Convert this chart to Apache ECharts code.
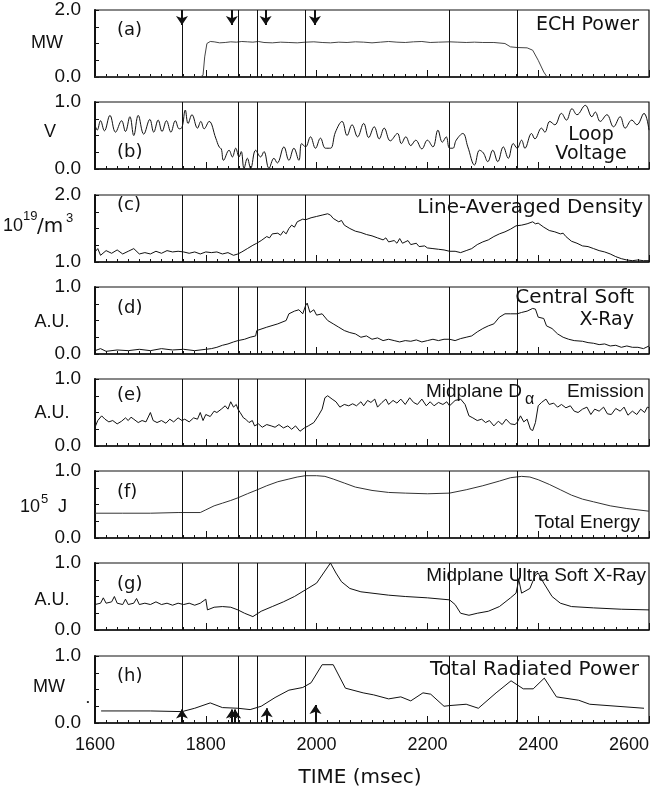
<!DOCTYPE html>
<html>
<head>
<meta charset="utf-8">
<script src="https://cdn.jsdelivr.net/npm/echarts@6.0.0/dist/echarts.min.js"></script>
<style>
html, body { margin: 0; padding: 0; background: #fff; }
#chart { width: 662px; height: 790px; }
</style>
</head>
<body>
<div id="chart"></div>
<script>
// time in msec
var eventTimes = [1757, 1858, 1893, 1980, 2240, 2362];
var arrowsDown = [1757, 1847, 1908, 1997];
var arrowsUp = [1757, 1847, 1853, 1910, 1998];
var arrowUpTips = [0.2, 0.2, 0.2, 0.22, 0.27];

var echPower = [[1600,0],[1790,0],[1795,0.05],[1798,0.6],[1802,1.0],[1808,1.06],[1815,1.05],[1825,1.02],[1835,1.03],[1845,1.05],[1855,1.04],[1865,1.06],[1875,1.05],[1885,1.04],[1895,1.06],[1905,1.03],[1920,1.02],[1935,1.04],[1950,1.03],[1965,1.02],[1980,1.04],[1995,1.05],[2010,1.03],[2025,1.02],[2040,1.04],[2055,1.03],[2070,1.05],[2085,1.04],[2100,1.02],[2115,1.04],[2130,1.06],[2145,1.04],[2160,1.03],[2175,1.05],[2190,1.06],[2205,1.03],[2220,1.04],[2240,1.05],[2255,1.04],[2270,1.03],[2285,1.04],[2300,1.03],[2320,1.03],[2340,1.0],[2350,0.9],[2362,0.88],[2380,0.87],[2390,0.8],[2400,0.5],[2410,0.15],[2416,0],[2600,0]];

var loopVoltage = [[1600,0.66],[1604,0.58],[1610,0.72],[1617,0.57],[1627,0.8],[1637,0.55],[1648,0.72],[1655,0.56],[1663,0.78],[1670,0.5],[1678,0.8],[1688,0.52],[1699,0.74],[1706,0.55],[1714,0.73],[1721,0.56],[1729,0.72],[1737,0.55],[1745,0.72],[1752,0.6],[1757,0.62],[1763,0.88],[1768,0.68],[1775,0.81],[1785,0.61],[1791,0.71],[1797,0.6],[1806,0.71],[1818,0.46],[1824,0.33],[1828,0.3],[1832,0.13],[1842,0.28],[1848,0.18],[1854,0.31],[1860,0.18],[1864,0.26],[1869,0.01],[1875,0.16],[1881,0.01],[1890,0.28],[1899,0.18],[1905,0.26],[1914,0.01],[1923,0.16],[1929,0.09],[1941,0.33],[1950,0.13],[1959,0.31],[1968,0.13],[1973,0.38],[1980,0.33],[1989,0.48],[1998,0.31],[2007,0.46],[2016,0.31],[2025,0.31],[2034,0.55],[2046,0.71],[2055,0.5],[2064,0.66],[2074,0.48],[2085,0.68],[2094,0.47],[2104,0.63],[2113,0.45],[2122,0.61],[2133,0.42],[2146,0.53],[2153,0.38],[2161,0.48],[2170,0.35],[2179,0.43],[2190,0.3],[2200,0.43],[2210,0.33],[2219,0.58],[2227,0.4],[2234,0.48],[2240,0.31],[2246,0.31],[2252,0.43],[2264,0.53],[2273,0.33],[2285,0.06],[2294,0.28],[2301,0.24],[2309,0.11],[2318,0.28],[2327,0.11],[2337,0.33],[2346,0.16],[2355,0.38],[2362,0.31],[2370,0.43],[2376,0.31],[2388,0.53],[2394,0.45],[2406,0.61],[2412,0.55],[2421,0.71],[2430,0.66],[2442,0.83],[2451,0.73],[2461,0.9],[2470,0.81],[2485,0.95],[2497,0.78],[2503,0.85],[2512,0.71],[2524,0.81],[2536,0.63],[2548,0.78],[2557,0.61],[2569,0.73],[2578,0.66],[2591,0.83],[2600,0.58]];

var density = [[1600,1.15],[1605,1.2],[1610,1.1],[1620,1.17],[1630,1.13],[1640,1.18],[1650,1.12],[1660,1.16],[1670,1.2],[1680,1.12],[1690,1.14],[1700,1.12],[1710,1.16],[1720,1.13],[1730,1.17],[1740,1.15],[1750,1.16],[1760,1.15],[1770,1.13],[1780,1.15],[1790,1.12],[1800,1.15],[1810,1.14],[1820,1.15],[1830,1.12],[1840,1.14],[1850,1.1],[1858,1.12],[1865,1.15],[1875,1.2],[1885,1.25],[1892,1.28],[1900,1.32],[1910,1.38],[1915,1.36],[1920,1.42],[1930,1.43],[1935,1.4],[1940,1.46],[1945,1.42],[1950,1.5],[1955,1.55],[1960,1.52],[1965,1.6],[1975,1.64],[1980,1.63],[1990,1.66],[2000,1.68],[2010,1.7],[2020,1.72],[2025,1.7],[2030,1.65],[2040,1.6],[2045,1.62],[2050,1.55],[2060,1.5],[2070,1.46],[2080,1.44],[2090,1.41],[2100,1.39],[2110,1.36],[2120,1.33],[2125,1.36],[2130,1.3],[2140,1.32],[2145,1.28],[2150,1.35],[2155,1.28],[2165,1.32],[2170,1.26],[2180,1.28],[2185,1.23],[2195,1.24],[2200,1.21],[2210,1.2],[2220,1.19],[2230,1.18],[2240,1.16],[2250,1.16],[2260,1.14],[2270,1.17],[2280,1.2],[2290,1.26],[2300,1.3],[2310,1.33],[2320,1.38],[2330,1.42],[2340,1.45],[2350,1.49],[2360,1.54],[2370,1.55],[2380,1.57],[2390,1.6],[2395,1.57],[2400,1.58],[2410,1.52],[2420,1.47],[2430,1.45],[2440,1.42],[2445,1.43],[2450,1.38],[2460,1.31],[2470,1.28],[2480,1.24],[2490,1.23],[2500,1.2],[2510,1.17],[2520,1.15],[2530,1.12],[2540,1.08],[2550,1.05],[2560,1.03],[2570,1.02],[2580,1.03],[2590,1.02],[2600,1.02]];

var softXray = [[1600,0.05],[1610,0.08],[1620,0.04],[1640,0.06],[1660,0.05],[1680,0.07],[1700,0.05],[1720,0.08],[1740,0.06],[1760,0.07],[1780,0.05],[1800,0.07],[1810,0.08],[1820,0.1],[1830,0.13],[1840,0.15],[1850,0.18],[1858,0.2],[1870,0.22],[1880,0.25],[1890,0.27],[1892,0.35],[1910,0.4],[1930,0.45],[1945,0.5],[1950,0.6],[1960,0.64],[1968,0.66],[1975,0.6],[1980,0.72],[1983,0.76],[1988,0.62],[1995,0.66],[2000,0.58],[2010,0.6],[2020,0.5],[2030,0.45],[2040,0.4],[2050,0.35],[2060,0.32],[2070,0.3],[2080,0.25],[2090,0.27],[2100,0.22],[2110,0.24],[2120,0.2],[2130,0.22],[2140,0.2],[2150,0.18],[2160,0.2],[2170,0.19],[2180,0.21],[2190,0.18],[2200,0.2],[2210,0.22],[2220,0.2],[2230,0.22],[2240,0.22],[2250,0.2],[2260,0.23],[2270,0.25],[2280,0.27],[2290,0.33],[2300,0.38],[2310,0.42],[2320,0.45],[2330,0.55],[2340,0.6],[2350,0.6],[2362,0.6],[2370,0.62],[2380,0.64],[2390,0.68],[2395,0.67],[2400,0.55],[2410,0.53],[2415,0.42],[2425,0.38],[2435,0.3],[2445,0.25],[2455,0.22],[2465,0.2],[2480,0.19],[2490,0.17],[2500,0.16],[2510,0.14],[2520,0.15],[2530,0.12],[2540,0.13],[2550,0.1],[2560,0.12],[2570,0.1],[2580,0.1],[2590,0.08],[2600,0.12]];

var dAlpha = [[1600,0.28],[1605,0.38],[1612,0.45],[1618,0.4],[1625,0.36],[1632,0.38],[1640,0.33],[1648,0.37],[1655,0.42],[1660,0.38],[1665,0.43],[1670,0.4],[1678,0.35],[1685,0.38],[1692,0.36],[1700,0.5],[1705,0.38],[1712,0.35],[1720,0.38],[1728,0.34],[1735,0.4],[1742,0.36],[1750,0.42],[1757,0.38],[1762,0.4],[1770,0.36],[1778,0.42],[1785,0.4],[1790,0.5],[1795,0.38],[1800,0.47],[1808,0.44],[1815,0.52],[1820,0.5],[1828,0.55],[1835,0.6],[1840,0.55],[1845,0.66],[1850,0.58],[1855,0.62],[1858,0.55],[1862,0.5],[1868,0.42],[1872,0.4],[1878,0.35],[1884,0.38],[1888,0.3],[1895,0.33],[1902,0.28],[1910,0.32],[1918,0.3],[1925,0.28],[1932,0.32],[1940,0.27],[1948,0.3],[1955,0.25],[1962,0.3],[1970,0.22],[1978,0.27],[1985,0.3],[1995,0.35],[2003,0.45],[2010,0.55],[2015,0.72],[2020,0.75],[2028,0.7],[2035,0.66],[2042,0.58],[2050,0.62],[2058,0.6],[2065,0.63],[2072,0.6],[2080,0.66],[2085,0.6],[2092,0.68],[2098,0.65],[2105,0.7],[2110,0.58],[2118,0.65],[2125,0.7],[2130,0.62],[2138,0.68],[2145,0.64],[2152,0.7],[2160,0.62],[2168,0.72],[2175,0.65],[2182,0.62],[2190,0.7],[2198,0.6],[2205,0.66],[2212,0.6],[2220,0.65],[2228,0.62],[2235,0.66],[2240,0.6],[2250,0.68],[2260,0.7],[2268,0.62],[2275,0.45],[2282,0.42],[2290,0.38],[2298,0.4],[2305,0.35],[2312,0.38],[2320,0.3],[2328,0.37],[2335,0.32],[2342,0.4],[2350,0.33],[2358,0.32],[2362,0.35],[2368,0.45],[2374,0.36],[2380,0.4],[2386,0.25],[2390,0.23],[2395,0.35],[2400,0.6],[2406,0.65],[2414,0.7],[2420,0.62],[2428,0.64],[2435,0.58],[2442,0.62],[2450,0.57],[2458,0.6],[2465,0.52],[2472,0.5],[2480,0.55],[2488,0.58],[2495,0.47],[2502,0.55],[2510,0.52],[2518,0.58],[2525,0.48],[2532,0.47],[2540,0.56],[2548,0.52],[2555,0.58],[2562,0.46],[2570,0.52],[2578,0.47],[2585,0.55],[2592,0.5],[2597,0.58],[2600,0.57]];

var totalEnergy = [[1600,0.37],[1650,0.37],[1700,0.37],[1750,0.38],[1790,0.38],[1800,0.42],[1815,0.48],[1830,0.52],[1845,0.56],[1858,0.6],[1875,0.66],[1893,0.72],[1910,0.78],[1930,0.84],[1950,0.88],[1965,0.91],[1980,0.93],[2000,0.93],[2015,0.92],[2030,0.88],[2050,0.82],[2070,0.76],[2100,0.71],[2130,0.68],[2160,0.67],[2200,0.66],[2240,0.67],[2270,0.72],[2300,0.78],[2330,0.85],[2350,0.9],[2370,0.92],[2385,0.91],[2400,0.87],[2420,0.8],[2440,0.72],[2460,0.64],[2480,0.58],[2500,0.54],[2530,0.48],[2560,0.44],[2600,0.4]];

var ultraSoftXray = [[1600,0.38],[1610,0.4],[1615,0.48],[1620,0.4],[1630,0.42],[1635,0.5],[1640,0.4],[1650,0.38],[1655,0.46],[1660,0.38],[1670,0.4],[1675,0.47],[1680,0.38],[1690,0.4],[1700,0.38],[1710,0.42],[1720,0.38],[1730,0.4],[1740,0.37],[1750,0.4],[1760,0.38],[1770,0.4],[1780,0.37],[1790,0.4],[1800,0.46],[1803,0.3],[1815,0.34],[1830,0.35],[1845,0.34],[1858,0.3],[1870,0.25],[1885,0.2],[1900,0.28],[1920,0.35],[1940,0.42],[1960,0.5],[1980,0.6],[2000,0.7],[2015,0.88],[2025,1.0],[2035,0.85],[2045,0.72],[2060,0.62],[2080,0.57],[2100,0.55],[2130,0.52],[2160,0.5],[2200,0.48],[2240,0.45],[2250,0.38],[2260,0.25],[2275,0.22],[2290,0.25],[2310,0.28],[2330,0.35],[2350,0.48],[2360,0.55],[2365,0.75],[2370,0.55],[2385,0.62],[2395,0.82],[2400,0.85],[2410,0.7],[2425,0.5],[2440,0.4],[2460,0.35],[2500,0.33],[2550,0.31],[2600,0.3]];

var radPower = [[1611,0.18],[1700,0.18],[1757,0.17],[1780,0.22],[1808,0.3],[1830,0.23],[1858,0.22],[1880,0.2],[1900,0.25],[1925,0.38],[1950,0.49],[1975,0.53],[1990,0.6],[2010,0.87],[2030,0.87],[2052,0.52],[2084,0.45],[2103,0.42],[2130,0.36],[2152,0.39],[2170,0.33],[2192,0.45],[2206,0.43],[2230,0.25],[2240,0.26],[2270,0.28],[2292,0.22],[2324,0.45],[2351,0.63],[2373,0.51],[2391,0.51],[2411,0.67],[2433,0.39],[2473,0.34],[2493,0.28],[2591,0.22]];

// layout
var FONT = "'Liberation Sans', Arial, sans-serif";
var WIDE = "'DejaVu Sans', sans-serif";
var gridLeft = 95, gridWidth = 554, gridHeight = 67;
var gridTops = [10, 102, 195, 287, 379, 471, 563, 656];
var yRanges = [[0, 2], [0, 1], [1, 2], [0, 1], [0, 1], [0, 1], [0, 1], [0, 1]];
var seriesList = [echPower, loopVoltage, density, softXray, dAlpha, totalEnergy, ultraSoftXray, radPower];
var smoothSeries = [false, 0.4, false, false, false, false, false, false];
var lineColors = ['#444', '#111', '#111', '#111', '#111', '#333', '#111', '#111'];

var chart = echarts.init(document.getElementById('chart'));

var grids = [], xAxes = [], yAxes = [], series = [];
gridTops.forEach(function (top, i) {
    var last = i === gridTops.length - 1;
    var lo = yRanges[i][0], hi = yRanges[i][1];
    grids.push({
        left: gridLeft, top: top, width: gridWidth, height: gridHeight,
        outerBoundsMode: 'none', containLabel: false,
        show: true, borderColor: '#111', borderWidth: 1.2
    });
    xAxes.push({
        gridIndex: i, type: 'value', min: 1600, max: 2600, interval: 200,
        axisLine: {show: true, lineStyle: {color: '#111', width: 1.5}},
        axisTick: {show: true, inside: true, length: 7, lineStyle: {color: '#111'}},
        minorTick: {show: true, splitNumber: 10, length: 3, lineStyle: {color: '#111'}},
        splitLine: {show: false},
        axisLabel: {
            show: last, color: '#111', fontFamily: FONT, fontSize: 18, margin: 13,
            alignMaxLabel: 'right',
            formatter: function (v) { return String(v); }
        }
    });
    yAxes.push({
        gridIndex: i, type: 'value', min: lo, max: hi, interval: (hi - lo) / 4,
        axisLine: {show: true, lineStyle: {color: '#111', width: 2}},
        axisTick: {show: true, inside: true, length: 4, lineStyle: {color: '#111'}},
        splitLine: {show: false},
        axisLabel: {
            color: '#111', fontFamily: FONT, fontSize: 19, margin: 14,
            formatter: function (v) {
                return (Math.abs(v - lo) < 1e-6 || Math.abs(v - hi) < 1e-6) ? v.toFixed(1) : '';
            }
        }
    });
    series.push({
        type: 'line', xAxisIndex: i, yAxisIndex: i, data: seriesList[i],
        showSymbol: false, symbol: 'none', silent: true, smooth: smoothSeries[i],
        lineStyle: {color: lineColors[i], width: 1},
        markLine: {
            silent: true, symbol: 'none', animation: false,
            label: {show: false},
            lineStyle: {color: '#111', width: 1, type: 'solid'},
            data: eventTimes.map(function (t) { return {xAxis: t}; })
        }
    });
});

// trigger arrows in (a) and (h)
series.push({
    type: 'line', xAxisIndex: 0, yAxisIndex: 0, data: [], silent: true,
    markLine: {
        silent: true, symbol: ['none', 'arrow'], symbolSize: 9, animation: false,
        label: {show: false},
        lineStyle: {color: '#111', width: 2, type: 'solid'},
        data: arrowsDown.map(function (t) { return [{coord: [t, 2.0]}, {coord: [t, 1.55]}]; })
    }
});
series.push({
    type: 'line', xAxisIndex: 7, yAxisIndex: 7, data: [], silent: true,
    markLine: {
        silent: true, symbol: ['none', 'arrow'], symbolSize: 9, animation: false,
        label: {show: false},
        lineStyle: {color: '#111', width: 2, type: 'solid'},
        data: arrowsUp.map(function (t, k) { return [{coord: [t, 0]}, {coord: [t, arrowUpTips[k]]}]; })
    }
});

function txt(s, x, y, size, align, family) {
    return {
        type: 'text', silent: true, z: 10,
        style: {text: s, x: x, y: y, fill: '#111', font: size + 'px ' + (family || FONT),
            textAlign: align || 'left', textVerticalAlign: 'middle'}
    };
}

var graphics = [
    // units
    txt('MW', 47, 43, 18, 'center'),
    txt('V', 50, 132, 18, 'center'),
    txt('10', 23, 226, 18, 'right'),
    txt('19', 23, 216, 13, 'left'),
    txt('/m', 37, 227, 20, 'left', WIDE),
    txt('3', 66, 218, 13, 'left'),
    txt('A.U.', 52, 322, 18, 'center'),
    txt('A.U.', 52, 413, 18, 'center'),
    txt('10', 40, 507, 18, 'right'),
    txt('5', 41, 499, 13, 'left'),
    txt('J', 58, 507, 18, 'left'),
    txt('A.U.', 52, 600, 18, 'center'),
    txt('MW', 49, 687, 18, 'center'),
    txt('\u2022', 88, 702, 8, 'center'),
    // panel letters
    txt('(a)', 117, 30, 18, 'left', WIDE), txt('(b)', 117, 152, 18, 'left', WIDE),
    txt('(c)', 117, 205, 18, 'left', WIDE), txt('(d)', 117, 308, 18, 'left', WIDE),
    txt('(e)', 117, 395, 18, 'left', WIDE), txt('(f)', 117, 492, 18, 'left', WIDE),
    txt('(g)', 117, 584, 18, 'left', WIDE), txt('(h)', 117, 676, 18, 'left', WIDE),
    // signal names
    txt('ECH Power', 639, 25, 19, 'right', WIDE),
    txt('Loop', 591, 135, 19, 'center', WIDE),
    txt('Voltage', 591, 154, 19, 'center', WIDE),
    txt('Line-Averaged Density', 643, 208, 20, 'right', WIDE),
    txt('Central Soft', 634, 298, 20, 'right', WIDE),
    txt('X-Ray', 634, 320, 19, 'right', WIDE),
    txt('Midplane D', 522, 392, 19, 'right'),
    txt('\u03b1', 525, 400, 16, 'left'),
    txt('Emission', 644, 392, 19, 'right'),
    txt('Total Energy', 640, 523, 19, 'right'),
    txt('Midplane Ultra Soft X-Ray', 646, 576, 19, 'right'),
    txt('Total Radiated Power', 639, 670, 20, 'right', WIDE),
    // x title
    txt('TIME (msec)', 360, 778, 20, 'center', WIDE)
];

chart.setOption({
    animation: false,
    backgroundColor: '#fff',
    grid: grids,
    xAxis: xAxes,
    yAxis: yAxes,
    series: series,
    graphic: graphics
});
</script>
</body>
</html>
